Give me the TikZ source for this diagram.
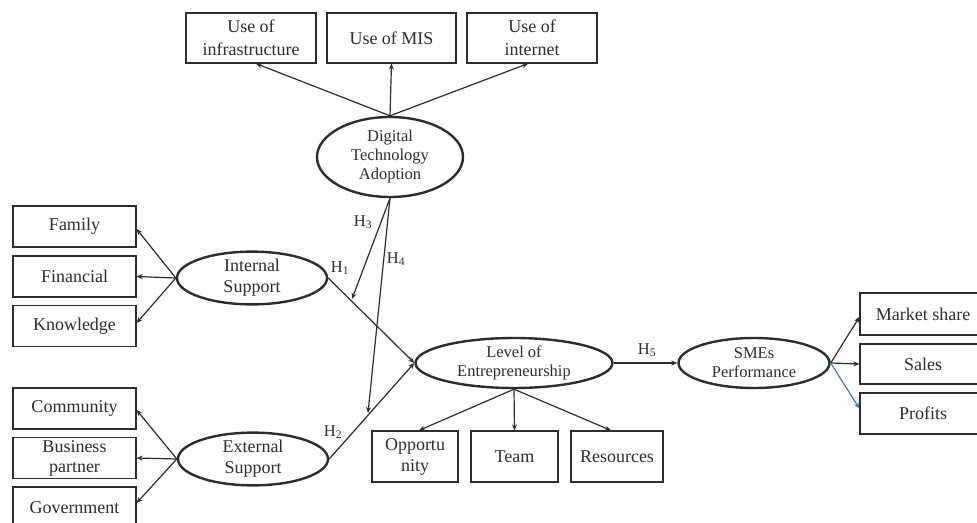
\documentclass[tikz,border=0pt]{standalone}
\usepackage{fontspec}
\setmainfont{Liberation Serif}
\usetikzlibrary{arrows.meta,shapes.geometric,calc}
\definecolor{ink}{RGB}{45,45,45}
\definecolor{bluearrow}{RGB}{70,120,200}
\begin{document}
\begin{tikzpicture}[x=1pt,y=-1pt,
  box/.style={draw=ink,line width=1.2pt,rectangle,inner sep=0pt,align=center,
    font=\fontsize{18}{21}\selectfont,text=ink},
  latent/.style={draw=ink,line width=2.4pt,ellipse,inner sep=0pt,align=center,
    font=\fontsize{16.5}{19}\selectfont,text=ink},
  conn/.style={draw=ink,line width=1.2pt,-{Stealth[length=6pt,width=5pt]}},
  hlab/.style={font=\fontsize{16.5}{19}\selectfont,text=ink,inner sep=0pt}
]
\useasboundingbox (0,0) rectangle (977,522);
\clip (0,0) rectangle (977,522);

% top indicator boxes
\node[box,minimum width=130pt,minimum height=50pt,font=\fontsize{18}{23}\selectfont] (infra) at (251,38) {Use of\\infrastructure};
\node[box,minimum width=129pt,minimum height=50pt] (mis) at (391.5,38) {Use of MIS};
\node[box,minimum width=130pt,minimum height=50pt,font=\fontsize{18}{23}\selectfont] (inet) at (532,38) {Use of\\internet};

% left boxes
\node[box,minimum width=123pt,minimum height=41pt] (family) at (74.5,226.5) {Family};
\node[box,minimum width=123pt,minimum height=41pt] (financial) at (74.5,276.5) {Financial};
\node[box,minimum width=123pt,minimum height=41pt] (knowledge) at (74.5,326) {Knowledge};
\node[box,minimum width=123pt,minimum height=41pt] (community) at (74.5,408.5) {Community};
\node[box,minimum width=123pt,minimum height=41pt,font=\fontsize{18}{20}\selectfont] (business) at (74.5,458) {Business\\partner};
\node[box,minimum width=123pt,minimum height=41pt] (government) at (74.5,507.5) {Government};

% bottom boxes
\node[box,minimum width=86pt,minimum height=51pt] (opp) at (415,456.5) {Opportu\\nity};
\node[box,minimum width=87pt,minimum height=51pt] (team) at (514.5,456.5) {Team};
\node[box,minimum width=92pt,minimum height=51pt] (res) at (617,456.5) {Resources};

% right boxes
\node[box,minimum width=126pt,minimum height=42pt] (mshare) at (923,314) {Market share};
\node[box,minimum width=126pt,minimum height=40pt] (sales) at (923,364) {Sales};
\node[box,minimum width=126pt,minimum height=41pt] (profits) at (923,413.5) {Profits};

% latent constructs
\node[latent,minimum width=146pt,minimum height=80pt] (dta) at (390,157) {Digital\\Technology\\Adoption};
\node[latent,minimum width=150pt,minimum height=50pt,font=\fontsize{18}{21}\selectfont] (is) at (252,278) {Internal\\Support};
\node[latent,minimum width=150pt,minimum height=50pt,font=\fontsize{18}{21}\selectfont] (es) at (253,459) {External\\Support};
\node[latent,minimum width=197pt,minimum height=50pt] (loe) at (514,363) {Level of\\Entrepreneurship};
\node[latent,minimum width=151pt,minimum height=50pt] (sme) at (754,363) {SMEs\\Performance};

% moderation end points
\coordinate (h3end) at (352,299);
\coordinate (h4end) at (368,413);

% DTA indicators
\draw[conn] (dta.north) -- ($(infra.south)+(5,0)$);
\draw[conn] (dta.north) -- (mis.south);
\draw[conn] (dta.north) -- ($(inet.south)+(-4,0)$);

% internal support indicators
\draw[conn] (is.west) -- ($(family.east)+(0,2.5)$);
\draw[conn] (is.west) -- (financial.east);
\draw[conn] (is.west) -- ($(knowledge.east)+(0,-3)$);

% external support indicators
\draw[conn] (es.west) -- ($(community.east)+(0,1.5)$);
\draw[conn] (es.west) -- (business.east);
\draw[conn] (es.west) -- ($(government.east)+(0,-4.5)$);

% hypotheses
\draw[conn] (is.east) -- (loe.west);
\draw[conn] (es.east) -- (loe.west);
\draw[conn] (dta.south) -- (h3end);
\draw[conn] (dta.south) -- (h4end);
\draw[conn] (loe.east) -- (sme.west);

% LoE indicators
\draw[conn] (loe.south) -- ($(opp.north)+(4,0)$);
\draw[conn] (loe.south) -- (team.north);
\draw[conn] (loe.south) -- ($(res.north)+(-6,0)$);

% SME indicators
\draw[conn] (sme.east) -- ($(mshare.west)+(0,3)$);
\draw[conn] (sme.east) -- (sales.west);
\draw[conn,draw=bluearrow] (sme.east) -- ($(profits.west)+(0,-5)$);

% labels
\node[hlab] (lh1) at (340,268) {H\textsubscript{1}};
\node[hlab] (lh2) at (333,432) {H\textsubscript{2}};
\node[hlab] (lh3) at (363,222) {H\textsubscript{3}};
\node[hlab] (lh4) at (396,259) {H\textsubscript{4}};
\node[hlab] (lh5) at (647,350) {H\textsubscript{5}};
\end{tikzpicture}
\end{document}
